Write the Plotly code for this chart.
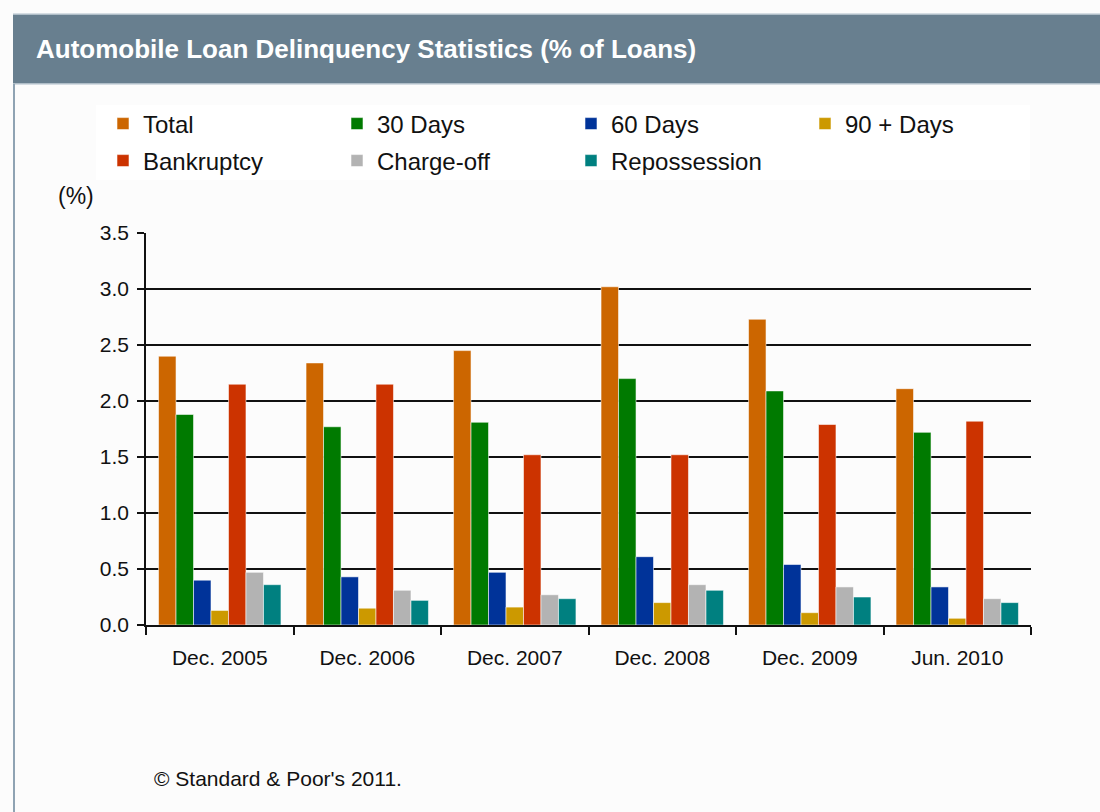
import plotly.graph_objects as go

categories = ["Dec. 2005", "Dec. 2006", "Dec. 2007", "Dec. 2008", "Dec. 2009", "Jun. 2010"]
total = [2.40, 2.34, 2.45, 3.02, 2.73, 2.11]
days30 = [1.88, 1.77, 1.81, 2.20, 2.09, 1.72]
days60 = [0.40, 0.43, 0.47, 0.61, 0.54, 0.34]
days90 = [0.13, 0.15, 0.16, 0.20, 0.11, 0.06]
bankruptcy = [2.15, 2.15, 1.52, 1.52, 1.79, 1.82]
chargeoff = [0.47, 0.31, 0.27, 0.36, 0.34, 0.235]
repossession = [0.36, 0.22, 0.235, 0.31, 0.25, 0.20]
y_ticks = [0.0, 0.5, 1.0, 1.5, 2.0, 2.5, 3.0, 3.5]

series = [
    ("Total", total, "#CC6600", "legend"),
    ("30 Days", days30, "#007A00", "legend"),
    ("60 Days", days60, "#003399", "legend"),
    ("90 + Days", days90, "#CC9900", "legend"),
    ("Bankruptcy", bankruptcy, "#CC3300", "legend2"),
    ("Charge-off", chargeoff, "#B3B3B3", "legend2"),
    ("Repossession", repossession, "#008080", "legend2"),
]

FONT = "Liberation Sans, Arial, sans-serif"
W, H = 1100, 812
L, R, T, B = 146, 69, 233, 187
PW = W - L - R
PH = H - T - B


def px_x(x):
    return (x - L) / PW


def px_y(y):
    return (H - B - y) / PH


fig = go.Figure()
for name, vals, color, lg in series:
    fig.add_trace(go.Bar(
        x=categories, y=vals, name=name, legend=lg,
        marker=dict(color=color, line=dict(color="rgba(255,255,255,0.55)", width=1)),
    ))

legend_common = dict(
    orientation="h", entrywidth=189, entrywidthmode="pixels",
    xanchor="left", yanchor="middle", bgcolor="rgba(0,0,0,0)",
    font=dict(family=FONT, size=24, color="#111111"),
    itemclick=False, itemdoubleclick=False,
)

fig.update_layout(
    width=W, height=H,
    margin=dict(l=L, r=R, t=T, b=B),
    paper_bgcolor="#FCFCFC",
    plot_bgcolor="#FCFCFC",
    barmode="group",
    bargap=0.17,
    bargroupgap=0,
    showlegend=True,
    legend=dict(x=px_x(103), y=px_y(124), **legend_common),
    legend2=dict(x=px_x(103), y=px_y(161), **legend_common),
    font=dict(family=FONT, size=21, color="#111111"),
    xaxis=dict(
        type="category",
        showline=True, linecolor="#111111", linewidth=1.5,
        ticks="outside", tickson="boundaries", ticklen=8, tickcolor="#111111", tickwidth=1.5,
        showgrid=False,
        tickfont=dict(family=FONT, size=21, color="#111111"),
        ticklabelstandoff=13,
        fixedrange=True,
    ),
    yaxis=dict(
        range=[0, 3.5], tickvals=y_ticks, ticktext=[f"{v:.1f}" for v in y_ticks],
        showline=True, linecolor="#111111", linewidth=1.5,
        ticks="outside", ticklen=7, tickcolor="#111111", tickwidth=1.5,
        showgrid=True, gridcolor="#111111", gridwidth=1.5,
        zeroline=False,
        tickfont=dict(family=FONT, size=21, color="#111111"),
        ticklabelstandoff=4,
        fixedrange=True,
    ),
    shapes=[
        # title bar
        dict(type="rect", xref="paper", yref="paper",
             x0=px_x(13), x1=px_x(1100), y0=px_y(84), y1=px_y(14),
             fillcolor="#687F8F", line=dict(width=0), layer="below"),
        dict(type="line", xref="paper", yref="paper",
             x0=px_x(13), x1=px_x(1100), y0=px_y(14), y1=px_y(14),
             line=dict(color="#C9D3DB", width=1.5)),
        dict(type="line", xref="paper", yref="paper",
             x0=px_x(13), x1=px_x(1100), y0=px_y(84), y1=px_y(84),
             line=dict(color="#C9D3DB", width=1.5)),
        # left border
        dict(type="line", xref="paper", yref="paper",
             x0=px_x(14), x1=px_x(14), y0=px_y(84), y1=px_y(812),
             line=dict(color="#8FA3B3", width=2)),
        # legend background
        dict(type="rect", xref="paper", yref="paper",
             x0=px_x(96), x1=px_x(1030), y0=px_y(180), y1=px_y(105),
             fillcolor="#FFFFFF", line=dict(width=0), layer="below"),
    ],
    annotations=[
        dict(text="<b>Automobile Loan Delinquency Statistics (% of Loans)</b>",
             xref="paper", yref="paper", x=px_x(34), y=px_y(49),
             xanchor="left", yanchor="middle", showarrow=False,
             font=dict(family=FONT, size=26, color="#FFFFFF")),
        dict(text="(%)", xref="paper", yref="paper", x=px_x(56), y=px_y(196),
             xanchor="left", yanchor="middle", showarrow=False,
             font=dict(family=FONT, size=23, color="#111111")),
        dict(text="© Standard & Poor's 2011.", xref="paper", yref="paper",
             x=px_x(152), y=px_y(778), xanchor="left", yanchor="middle", showarrow=False,
             font=dict(family=FONT, size=21, color="#111111")),
    ],
)

fig.write_html("out.html", config={"displayModeBar": False})
